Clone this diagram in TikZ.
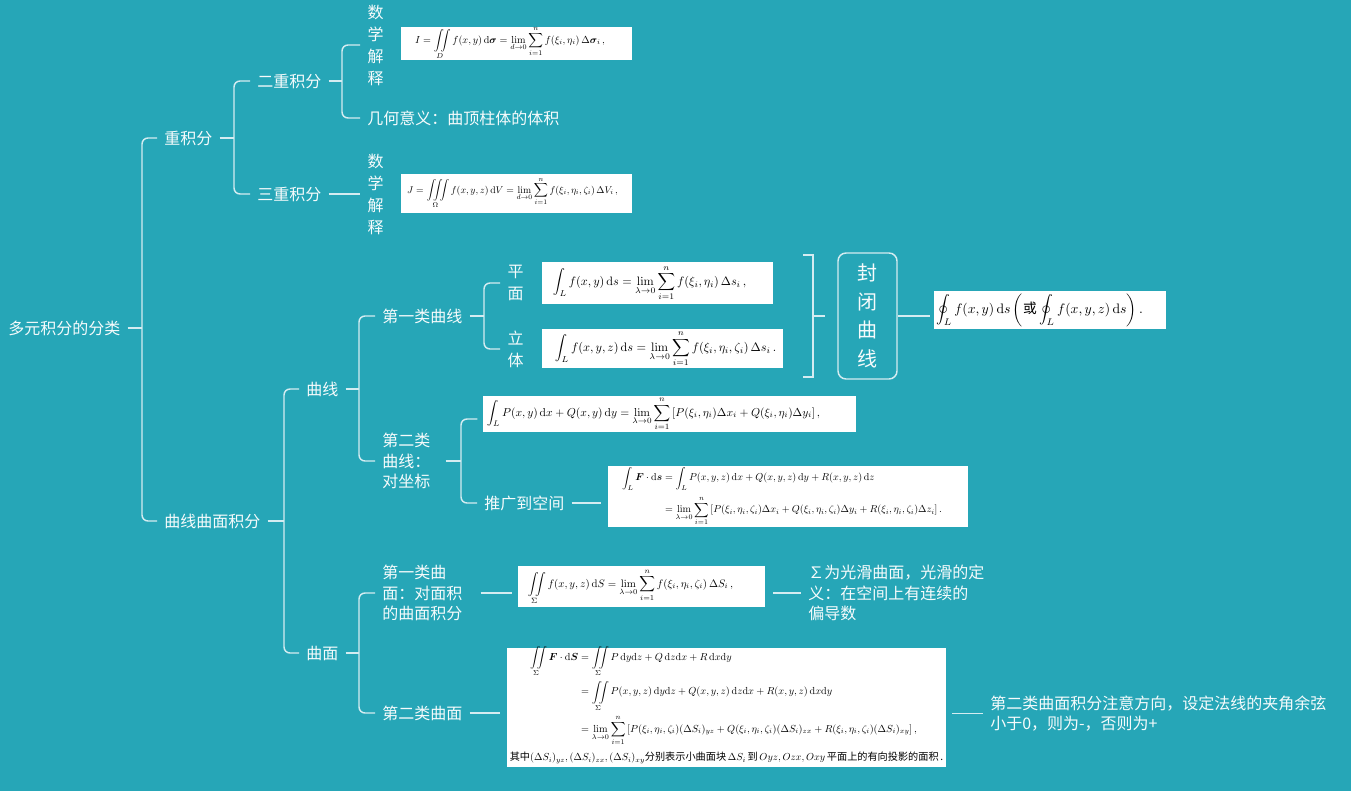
\documentclass[tikz,border=0pt]{standalone}
\usepackage{amsmath}
\usepackage{graphicx}
\usepackage[no-math]{fontspec}
\setmainfont{Noto Sans CJK SC}
\usetikzlibrary{calc}
\definecolor{bg}{RGB}{38,166,183}
\definecolor{linec}{RGB}{212,236,241}
\definecolor{txtc}{RGB}{246,251,252}
\newcommand{\dd}{\mathrm{d}}
\begin{document}
\begin{tikzpicture}[x=0.75pt,y=-0.75pt,
  lbl/.style={text=txtc, font=\fontsize{12}{15.4}\selectfont, inner xsep=5.25pt, inner ysep=1pt, align=left, anchor=west},
  vlbl/.style={text=txtc, font=\fontsize{12}{16.5}\selectfont, inner xsep=5.25pt, inner ysep=1pt, align=center},
  conn/.style={draw=linec, line width=1.1pt},
  br/.style={conn, rounded corners=4.5pt},
  fbox/.style={fill=white, draw=none, inner sep=0pt},
  fml/.style={inner sep=0pt, text=black},
]
\fill[bg] (0,0) rectangle (1351,791);
\useasboundingbox (0,0) rectangle (1351,791);

% ---------- text nodes ----------
\node[lbl] (root) at (1,328) {多元积分的分类};
\node[lbl] (zhong) at (157,138) {重积分};
\node[lbl] (qmj) at (157,521) {曲线曲面积分};
\node[lbl] (er) at (250,81) {二重积分};
\node[lbl] (san) at (250,194) {三重积分};
\node[vlbl] (sx1) at (375.5,45) {数\\学\\解\\释};
\node[lbl] (jh) at (360,118) {几何意义：曲顶柱体的体积};
\node[vlbl] (sx2) at (375.5,194) {数\\学\\解\\释};
\node[lbl] (quxian) at (299,389) {曲线};
\node[lbl] (qumian) at (299,653) {曲面};
\node[lbl] (d1qx) at (375,316) {第一类曲线};
\node[lbl] (d2qx) at (375,461) {第二类\\曲线：\\对坐标};
\node[vlbl] (pm) at (515.5,283) {平\\面};
\node[vlbl] (lt) at (515.5,349) {立\\体};
\node[lbl] (tg) at (477,503) {推广到空间};
\node[lbl] (d1qm) at (375,593) {第一类曲\\面：对面积\\的曲面积分};
\node[lbl] (d2qm) at (375,713) {第二类曲面};
\node[lbl] (note1) at (801,593) {∑为光滑曲面，光滑的定\\义：在空间上有连续的\\偏导数};
\node[lbl] (note2) at (983,713.5) {第二类曲面积分注意方向，设定法线的夹角余弦\\小于0，则为-，否则为+};
\node[draw=linec, line width=1.1pt, rounded corners=6pt, minimum width=44.25pt, minimum height=94.5pt,
      text=txtc, font=\fontsize{15}{21.4}\selectfont, align=center, inner sep=0pt] (fb) at (867.5,316) {封\\闭\\曲\\线};

% ---------- formula boxes ----------
\node[fbox, minimum width=173.25pt, minimum height=24.75pt] (f1) at (516.5,43.5) {};
\node[fml] (f1t) at (510,43) {\resizebox{142.5pt}{!}{$\displaystyle I=\iint\limits_D f(x,y)\,\dd\boldsymbol{\sigma}=\lim_{d\to0}\sum_{i=1}^{n}f(\xi_i,\eta_i)\,\Delta\boldsymbol{\sigma}_i\,,$}};

\node[fbox, minimum width=173.25pt, minimum height=29.25pt] (f2) at (516.5,193.5) {};
\node[fml] (f2t) at (512.5,193) {\resizebox{158pt}{!}{$\displaystyle J=\iiint\limits_\Omega f(x,y,z)\,\dd V=\lim_{d\to0}\sum_{i=1}^{n}f(\xi_i,\eta_i,\zeta_i)\,\Delta V_i\,,$}};

\node[fbox, minimum width=173.25pt, minimum height=31.5pt] (f3) at (657.5,283) {};
\node[fml] (f3t) at (649.5,283) {\resizebox{145pt}{!}{$\displaystyle \int_L f(x,y)\,\dd s=\lim_{\lambda\to0}\sum_{i=1}^{n}f(\xi_i,\eta_i)\,\Delta s_i\,,$}};

\node[fbox, minimum width=180.75pt, minimum height=29.25pt] (f4) at (662.5,348.5) {};
\node[fml] (f4t) at (665.5,349) {\resizebox{166pt}{!}{$\displaystyle \int_L f(x,y,z)\,\dd s=\lim_{\lambda\to0}\sum_{i=1}^{n}f(\xi_i,\eta_i,\zeta_i)\,\Delta s_i\,.$}};

\node[fbox, minimum width=174pt, minimum height=28.5pt] (f5) at (1050,310) {};
\node[fml] (f5t) at (1039.5,310) {\resizebox{155pt}{!}{$\displaystyle \oint_L f(x,y)\,\dd s\left(\text{或}\oint_L f(x,y,z)\,\dd s\right).$}};

\node[fbox, minimum width=279.75pt, minimum height=27pt] (f6) at (669.5,414) {};
\node[fml] (f6t) at (653.5,414) {\resizebox{250pt}{!}{$\displaystyle \int_L P(x,y)\,\dd x+Q(x,y)\,\dd y=\lim_{\lambda\to0}\sum_{i=1}^{n}\left[P(\xi_i,\eta_i)\Delta x_i+Q(\xi_i,\eta_i)\Delta y_i\right],$}};

\node[fbox, minimum width=270pt, minimum height=45.75pt] (f7) at (788,496.5) {};
\node[fml] (f7t) at (782,496.5) {\resizebox{240pt}{!}{$\displaystyle \begin{aligned}\int_L \boldsymbol{F}\cdot\dd\boldsymbol{s}&=\int_L P(x,y,z)\,\dd x+Q(x,y,z)\,\dd y+R(x,y,z)\,\dd z\\[2pt]
&=\lim_{\lambda\to0}\sum_{i=1}^{n}\left[P(\xi_i,\eta_i,\zeta_i)\Delta x_i+Q(\xi_i,\eta_i,\zeta_i)\Delta y_i+R(\xi_i,\eta_i,\zeta_i)\Delta z_i\right].\end{aligned}$}};

\node[fbox, minimum width=185.25pt, minimum height=30.75pt] (f8) at (641.5,586.5) {};
\node[fml] (f8t) at (630.5,587) {\resizebox{154pt}{!}{$\displaystyle \iint\limits_\Sigma f(x,y,z)\,\dd S=\lim_{\lambda\to0}\sum_{i=1}^{n}f(\xi_i,\eta_i,\zeta_i)\,\Delta S_i\,,$}};

\node[fbox, minimum width=329.25pt, minimum height=89.25pt] (f9) at (726.5,707.5) {};
\node[fml] (f9t) at (723.5,696) {\resizebox{290pt}{!}{$\displaystyle \begin{aligned}\iint\limits_\Sigma \boldsymbol{F}\cdot\dd\boldsymbol{S}&=\iint\limits_\Sigma P\,\dd y\dd z+Q\,\dd z\dd x+R\,\dd x\dd y\\
&=\iint\limits_\Sigma P(x,y,z)\,\dd y\dd z+Q(x,y,z)\,\dd z\dd x+R(x,y,z)\,\dd x\dd y\\
&=\lim_{\lambda\to0}\sum_{i=1}^{n}\left[P(\xi_i,\eta_i,\zeta_i)(\Delta S_i)_{yz}+Q(\xi_i,\eta_i,\zeta_i)(\Delta S_i)_{zx}+R(\xi_i,\eta_i,\zeta_i)(\Delta S_i)_{xy}\right],\end{aligned}$}};
\node[fml] (f9n) at (726.5,758) {\resizebox{325pt}{!}{其中$(\Delta S_i)_{yz},(\Delta S_i)_{zx},(\Delta S_i)_{xy}$分别表示小曲面块$\,\Delta S_i\,$到$\,Oyz,Ozx,Oxy\,$平面上的有向投影的面积\,.}};

% ---------- bracket coordinates ----------
\coordinate (b0) at (142,328);
\coordinate (b1) at (234,138);
\coordinate (b2) at (342,81);
\coordinate (b3) at (284,521);
\coordinate (b4) at (359,389);
\coordinate (b5) at (484,316);
\coordinate (b6) at (461,461);
\coordinate (b7) at (359,653);
\coordinate (rb1) at (803,255);
\coordinate (rb2) at (813,255);
\coordinate (rb3) at (813,377);
\coordinate (rb4) at (803,377);
\coordinate (rbm) at (813,316);

% ---------- connectors ----------
\draw[conn] (root.east) -- (b0);
\draw[br] (zhong.west) -| (b0) |- (qmj.west);
\draw[conn] (zhong.east) -- (b1);
\draw[br] (er.west) -| (b1) |- (san.west);
\draw[conn] (er.east) -- (b2);
\draw[br] (sx1.west) -| (b2) |- (jh.west);
\draw[conn] (san.east) -- (sx2.west);
\draw[conn] (qmj.east) -- (b3);
\draw[br] (quxian.west) -| (b3) |- (qumian.west);
\draw[conn] (quxian.east) -- (b4);
\draw[br] (d1qx.west) -| (b4) |- (d2qx.west);
\draw[conn] (d1qx.east) -- (b5);
\draw[br] (pm.west) -| (b5) |- (lt.west);
\draw[conn] ([xshift=6pt]d2qx.east) -- (b6);
\draw[br] ([xshift=-4pt,yshift=-3.75pt]f6.west) -| (b6) |- (tg.west);
\draw[conn] (tg.east) -- ($(tg.east -| f7.west)+(-7,0)$);
\draw[conn] (qumian.east) -- (b7);
\draw[br] (d1qm.west) -| (b7) |- (d2qm.west);
\draw[conn] ($(d1qm.east)+(11,0)$) -- ($(d1qm.east -| f8.west)+(-6,0)$);
\draw[conn] ($(note1.west -| f8.east)+(8,0)$) -- (note1.west);
\draw[conn] (d2qm.east) -- ($(d2qm.east -| f9.west)+(-7,0)$);
\draw[conn] ($(note2.west -| f9.east)+(6,0)$) -- (note2.west);
\draw[conn] (rb1) -- (rb2) -- (rb3) -- (rb4);
\draw[conn] (rbm) -- ([xshift=-9pt]fb.west);
\draw[conn] (fb.east) -- ($(fb.east -| f5.west)+(-4,0)$);
\end{tikzpicture}
\end{document}
